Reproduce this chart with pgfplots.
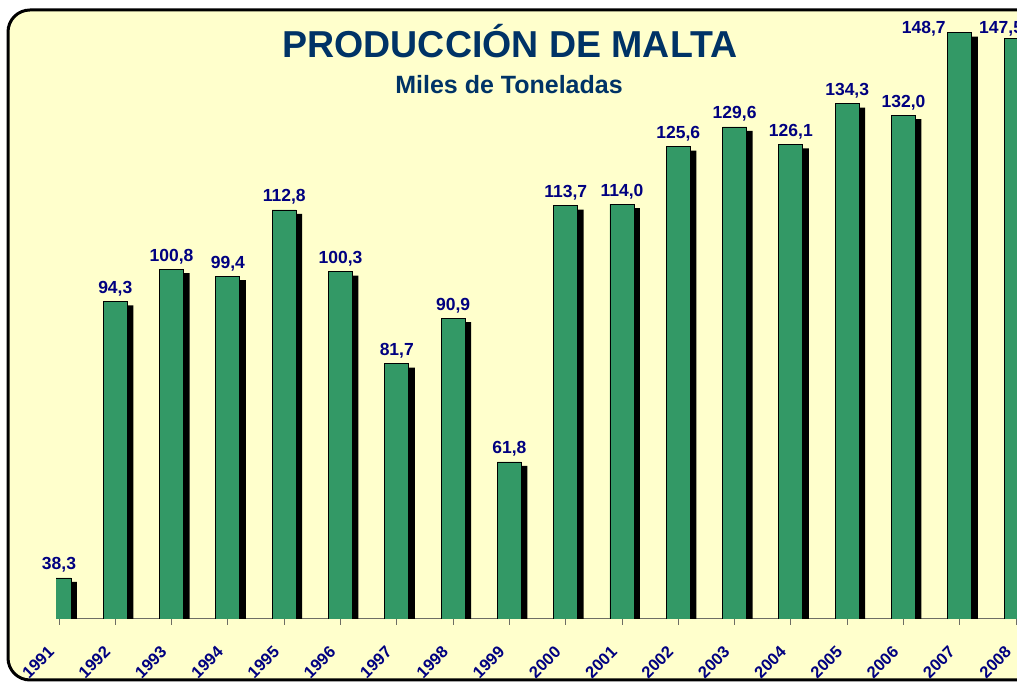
\documentclass[border=0pt]{standalone}
\usepackage{pgfplots}
\usepackage{pgfplotstable}
\pgfplotsset{compat=1.18}
\usepackage{fontspec}
\setmainfont{Liberation Sans}
\definecolor{bg}{RGB}{255,255,204}
\definecolor{bargreen}{RGB}{51,153,102}
\definecolor{titleblue}{RGB}{0,51,102}
\definecolor{navy}{RGB}{0,0,128}
\definecolor{axisgray}{RGB}{110,110,100}

\pgfplotstableread{
x y dx dy
0 38.3 0 8
1 94.3 0 8
2 100.8 0 8
3 99.4 0 8
4 112.8 0 8
5 100.3 0 8
6 81.7 0 8
7 90.9 0 8
8 61.8 0 8
9 113.7 0 8
10 114.0 0 8
11 125.6 0 8
12 129.6 0 8
13 126.1 0 8
14 134.3 0 8
15 132.0 0 8
16 148.7 -36 -1
17 147.5 -15 5
}\data

\begin{document}
\begin{tikzpicture}
\useasboundingbox (0pt,0pt) rectangle (1017pt,682pt);
\clip (0pt,0pt) rectangle (1017pt,682pt);
\draw[line width=3pt, fill=bg, rounded corners=22pt] (8pt,2pt) rectangle (1060pt,672pt);
\node[anchor=base, text=titleblue, font=\bfseries\fontsize{37.5}{40}\selectfont] at (510pt,624pt) {PRODUCCIÓN DE MALTA};
\node[anchor=base, text=titleblue, font=\bfseries\fontsize{25}{27}\selectfont] at (509pt,588pt) {Miles de Toneladas};
\begin{axis}[
  at={(56pt,63pt)}, anchor=south west,
  x=56.3pt, y=4.94pt,
  xmin=-0.053, xmax=17.6,
  ymin=30, ymax=153,
  axis x line*=bottom,
  axis y line=none,
  x axis line style={draw=axisgray, line width=1pt},
  xtick=data,
  xticklabels={1991,1992,1993,1994,1995,1996,1997,1998,1999,2000,2001,2002,2003,2004,2005,2006,2007,2008},
  tick align=outside,
  major tick length=6pt,
  x tick style={draw=axisgray, line width=0.8pt},
  xticklabel style={anchor=north east, text=navy, inner sep=0pt,
     font=\bfseries\fontsize{16.5}{16.5}\selectfont, xshift=-12pt, yshift=-20pt, rotate=45},
  /pgf/number format/.cd, fixed, fixed zerofill, precision=1, use comma, assume math mode=true,
]
\addplot[ybar, fill=black, draw=none, bar width=24pt, bar shift=6pt, yshift=-4pt] table[x=x,y=y]{\data};
\addplot[ybar, fill=bargreen, draw=black, line width=0.8pt, bar width=24pt, bar shift=0pt,
  nodes near coords,
  visualization depends on={\thisrow{dx}\as\dx},
  visualization depends on={\thisrow{dy}\as\dy},
  every node near coord/.append style={anchor=base, xshift=\dx pt, yshift=\dy pt, inner sep=0pt,
     text=navy, font=\bfseries\fontsize{17.5}{18}\selectfont}
] table[x=x,y=y]{\data};
\end{axis}
\end{tikzpicture}
\end{document}
